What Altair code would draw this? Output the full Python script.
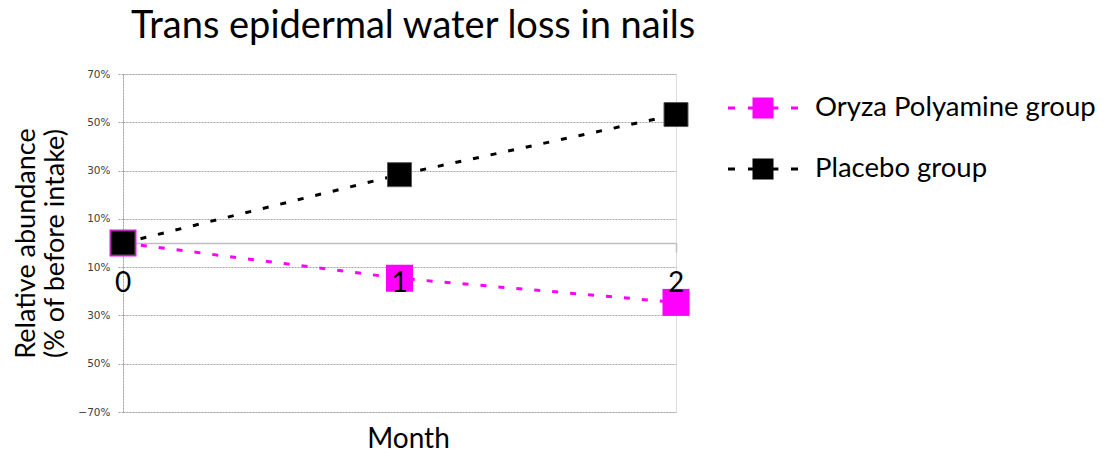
import altair as alt
import pandas as pd

months = [0, 1, 2]
month_labels = ["0", "1", "2"]
groups = ["Oryza Polyamine group", "Placebo group"]
oryza = [0.0, -14.6, -24.6]
placebo = [0.0, 28.3, 53.2]
y_ticks = [-70, -50, -30, -10, 10, 30, 50, 70]
colors = ["#FF00FF", "#000000"]

rows = []
for m, v in zip(months, oryza):
    rows.append({"month": m, "value": v, "group": groups[0]})
for m, v in zip(months, placebo):
    rows.append({"month": m, "value": v, "group": groups[1]})
df = pd.DataFrame(rows)
lab_df = pd.DataFrame({"month": months, "label": month_labels})

FONT = "Lato"
PATH = ("M-0.3,-0.3H0.3V0.3H-0.3Z "
        "M-1,-0.043H-0.8V0.043H-1Z "
        "M-0.43,-0.043H-0.3V0.043H-0.43Z "
        "M0.3,-0.043H0.44V0.043H0.3Z "
        "M0.8,-0.043H1V0.043H0.8Z")

x_scale = alt.Scale(domain=[0, 2], nice=False, zero=False)
y_scale = alt.Scale(domain=[-70, 70], nice=False, zero=False)

x_enc = alt.X(
    "month:Q", scale=x_scale,
    axis=alt.Axis(
        values=months, format="d", offset=-169, labels=False,
        domainColor="#bfbfbf", domainWidth=1.5,
        tickColor="#bfbfbf", tickWidth=1.5, tickSize=9,
        title="Month", titleFont=FONT, titleFontSize=28, titleFontWeight="normal",
        titleColor="black", titleBaseline="alphabetic", titleY=204, titleX=285,
        grid=False,
    ),
)
y_enc = alt.Y(
    "value:Q", scale=y_scale,
    axis=alt.Axis(
        values=y_ticks,
        labelExpr="datum.value == -70 ? '\u221270%' : abs(datum.value) + '%'",
        labelFont="DejaVu Sans", labelFontSize=10.5, labelColor="#404040", labelPadding=8,
        domainColor="#a6a6a6", domainDash=[2, 1], domainWidth=1,
        tickColor="#a6a6a6", tickDash=[2, 1], tickSize=5,
        grid=True, gridColor="#a6a6a6", gridDash=[2, 1], gridWidth=1,
        title=["Relative abundance", "(% of before intake)"],
        titleFont=FONT, titleFontSize=27, titleFontWeight="normal", titleColor="black",
        titleLineHeight=29, titleBaseline="alphabetic", titleAlign="center",
        titleX=-89,
    ),
)
color_scale = alt.Scale(domain=groups, range=colors)
legend = alt.Legend(
    title=None, orient="none", legendX=605, legendY=-1,
    symbolType=PATH, symbolSize=4900, symbolStrokeWidth=0,
    labelFont=FONT, labelFontSize=27.5, labelColor="black", labelOffset=17,
    rowPadding=12, labelLimit=400,
)
color_enc = alt.Color("group:N", scale=color_scale, legend=legend, sort=groups)

base = alt.Chart(df)
lines = base.mark_line(strokeWidth=3, strokeDash=[6, 12]).encode(
    x=x_enc, y=y_enc, color=color_enc, detail="group:N",
)
pts_o = base.transform_filter(alt.datum.group == groups[0]).mark_point(
    shape="square", filled=True, size=729, opacity=1
).encode(x=x_enc, y=y_enc, color=color_enc)
pts_p = base.transform_filter(alt.datum.group == groups[1]).mark_point(
    shape="square", filled=True, size=576, opacity=1, stroke="#595959", strokeWidth=1
).encode(x=x_enc, y=y_enc, color=color_enc)
labels = alt.Chart(lab_df).mark_text(
    font=FONT, fontSize=28, color="black", baseline="top", align="center", dy=27
).encode(
    x=alt.X("month:Q", scale=x_scale),
    y=alt.datum(0, scale=y_scale),
    text="label:N",
)

chart = alt.layer(lines, pts_o, pts_p, labels).properties(
    width=553, height=338,
    title=alt.TitleParams(
        "Trans epidermal water loss in nails", font=FONT, fontSize=38,
        fontWeight="normal", color="black", anchor="start", frame="group",
        dx=8, offset=23,
    ),
    autosize=alt.AutoSizeParams(type="none"),
    padding={"left": 115, "top": 66, "right": 420, "bottom": 44},
).configure_view(strokeWidth=0).configure(background="white")

chart.save("out.html", embed_options={"renderer": "svg", "actions": False})
